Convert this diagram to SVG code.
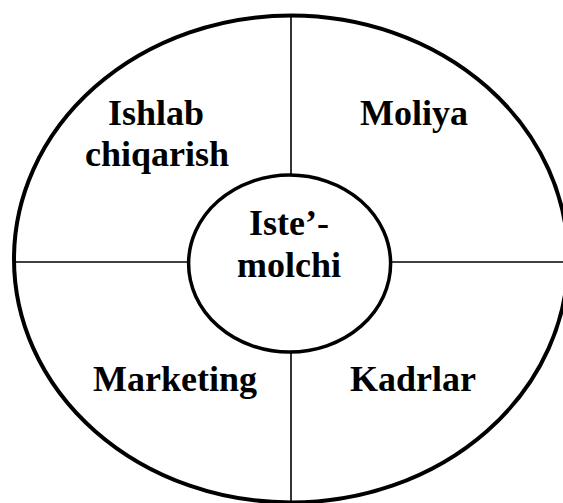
<svg xmlns="http://www.w3.org/2000/svg" width="563" height="503" viewBox="0 0 563 503">
<style>
.t{font-family:"Liberation Serif","Times New Roman",serif;font-weight:bold;font-size:36px;fill:#000;text-anchor:middle}
.ln{stroke:#000;stroke-width:1.6;fill:none}
.sh{stroke:#000;fill:#fff}
</style>
<rect width="563" height="503" fill="#fff"/>
<g id="outer"><ellipse class="sh" cx="291" cy="259" rx="277" ry="243.5" stroke-width="4"/></g>
<g id="connectors">
<line class="ln" x1="291" y1="15" x2="291" y2="176"/>
<line class="ln" x1="291" y1="351" x2="291" y2="503"/>
<line class="ln" x1="14" y1="262" x2="189" y2="262"/>
<line class="ln" x1="390" y1="262" x2="563" y2="262"/>
</g>
<g id="ishlab"><text class="t" x="156" y="125">Ishlab</text><text class="t" x="157" y="166">chiqarish</text></g>
<g id="moliya"><text class="t" x="414" y="125">Moliya</text></g>
<g id="marketing"><text class="t" x="175" y="391">Marketing</text></g>
<g id="kadrlar"><text class="t" x="413" y="391">Kadrlar</text></g>
<g id="center"><ellipse class="sh" cx="289.6" cy="263.6" rx="101" ry="88.5" stroke-width="3.5"/>
<text class="t" x="289" y="235">Iste’-</text><text class="t" x="289" y="277">molchi</text></g>
</svg>
